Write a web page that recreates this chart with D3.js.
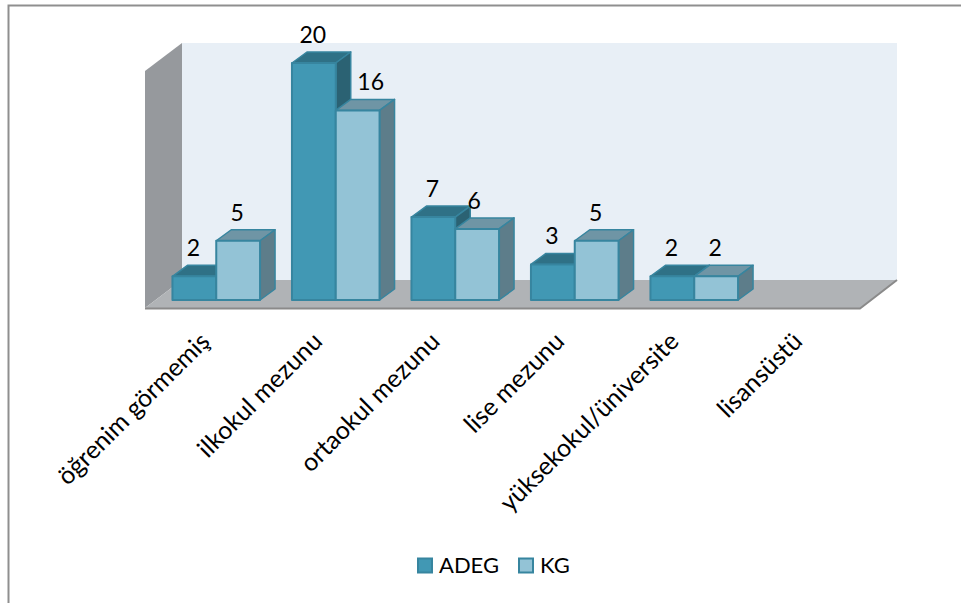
<!DOCTYPE html>
<html>
<head>
<meta charset="utf-8">
<script src="https://cdn.jsdelivr.net/npm/d3@7"></script>
<style>
  html, body { margin: 0; padding: 0; background: #fff; }
  svg { display: block; }
  text { font-family: Lato, "Open Sans", sans-serif; fill: #000; }
</style>
</head>
<body>
<svg id="chart" width="961" height="603"></svg>
<script>
const categories = ["öğrenim görmemiş", "ilkokul mezunu", "ortaokul mezunu", "lise mezunu", "yüksekokul/üniversite", "lisansüstü"];
const seriesNames = ["ADEG", "KG"];
const adegValues = [2, 20, 7, 3, 2, null];
const kgValues = [5, 16, 6, 5, 2, null];
const kgLabelShift = [0, 14, -2, 0, 0, 0];
const categoryLabelShift = [-5, -12, -14, -9, -14, -10];

const palette = {
  ADEG: { front: "#4198b4", top: "#2f7186", side: "#2b6273" },
  KG: { front: "#93c3d6", top: "#6f95a5", side: "#5d7d8a" },
  stroke: "#37859f"
};

const svg = d3.select("#chart");
const depthX = 15, depthY = -11;
const wallDepthX = 37, wallDepthY = -28;

const x = d3.scaleBand().domain(categories).range([156.5, 873.5]).paddingInner(0).paddingOuter(0);
const y = d3.scaleLinear().domain([0, 20]).range([300, 63]);
const barWidth = 43.8;
const line = d3.line();

// Outer chart frame: only the top and left edges fall inside the page
svg.append("path")
  .attr("d", line([[8.5, 603], [8.5, 5.5], [961, 5.5]]))
  .attr("fill", "none").attr("stroke", "#8f8f8f").attr("stroke-width", 2);

// Room: back wall, side wall and floor
const room = { left: 145, right: 860, floor: 308, ceiling: 71 };
const bx = wallDepthX, by = wallDepthY;
const roomG = svg.append("g");
roomG.append("path").attr("fill", "#e8eff6")
  .attr("d", line([[room.left + bx, room.ceiling + by], [room.right + bx, room.ceiling + by], [room.right + bx, room.floor + by], [room.left + bx, room.floor + by]]) + "Z");
roomG.append("path").attr("fill", "#96999d")
  .attr("d", line([[room.left, room.ceiling], [room.left + bx, room.ceiling + by], [room.left + bx, room.floor + by], [room.left, room.floor]]) + "Z");
roomG.append("path").attr("fill", "#b0b3b6")
  .attr("d", line([[room.left, room.floor], [room.left + bx, room.floor + by], [room.right + bx, room.floor + by], [room.right, room.floor]]) + "Z");
roomG.append("path").attr("fill", "none").attr("stroke", "#8a8a8a").attr("stroke-width", 2)
  .attr("d", line([[room.left, room.floor + 0.5], [room.right, room.floor + 0.5], [room.right + bx, room.floor + by]]));

// One cuboid per value: front face, top face and right-hand side face
function drawBar(g, x0, value, colors) {
  const x1 = x0 + barWidth, yTop = y(value), yBase = y(0);
  const face = (pts, fill, strokeWidth) => g.append("path")
    .attr("d", line(pts) + "Z")
    .attr("fill", fill).attr("stroke", palette.stroke)
    .attr("stroke-width", strokeWidth).attr("stroke-linejoin", "round");
  face([[x0, yTop], [x0 + depthX, yTop + depthY], [x1 + depthX, yTop + depthY], [x1, yTop]], colors.top, 1.5);
  face([[x1, yTop], [x1 + depthX, yTop + depthY], [x1 + depthX, yBase + depthY], [x1, yBase]], colors.side, 1.5);
  face([[x0, yTop], [x1, yTop], [x1, yBase], [x0, yBase]], colors.front, 2);
}

const barsG = svg.append("g");
const labelsG = svg.append("g").attr("font-size", 23).attr("text-anchor", "middle");

categories.forEach((c, i) => {
  const center = x(c) + x.bandwidth() / 2;
  [adegValues, kgValues].forEach((vals, s) => {
    const v = vals[i];
    if (v === null) return;
    const x0 = center - barWidth + s * barWidth;
    drawBar(barsG, x0, v, palette[seriesNames[s]]);
    labelsG.append("text")
      .attr("x", x0 + barWidth / 2 - 1 + (s === 1 ? kgLabelShift[i] : 0))
      .attr("y", y(v) - 20)
      .text(v);
  });
});

// Slanted category labels, anchored at their end beneath each group
svg.append("g").selectAll("text").data(categories).join("text")
  .attr("font-size", 25)
  .attr("text-anchor", "end")
  .attr("transform", (d, i) => `translate(${x(d) + x.bandwidth() / 2 + categoryLabelShift[i]},${343}) rotate(-45)`)
  .text(d => d);

// Legend
const legendItems = [{ name: seriesNames[0], sx: 417, tx: 439 }, { name: seriesNames[1], sx: 518, tx: 540 }];
const legend = svg.append("g");
legendItems.forEach(it => {
  legend.append("rect")
    .attr("x", it.sx + 1).attr("y", 558.5).attr("width", 14).attr("height", 14)
    .attr("fill", palette[it.name].front).attr("stroke", palette.stroke).attr("stroke-width", 2);
  legend.append("text")
    .attr("x", it.tx).attr("y", 573).attr("font-size", 22).text(it.name);
});
</script>
</body>
</html>
